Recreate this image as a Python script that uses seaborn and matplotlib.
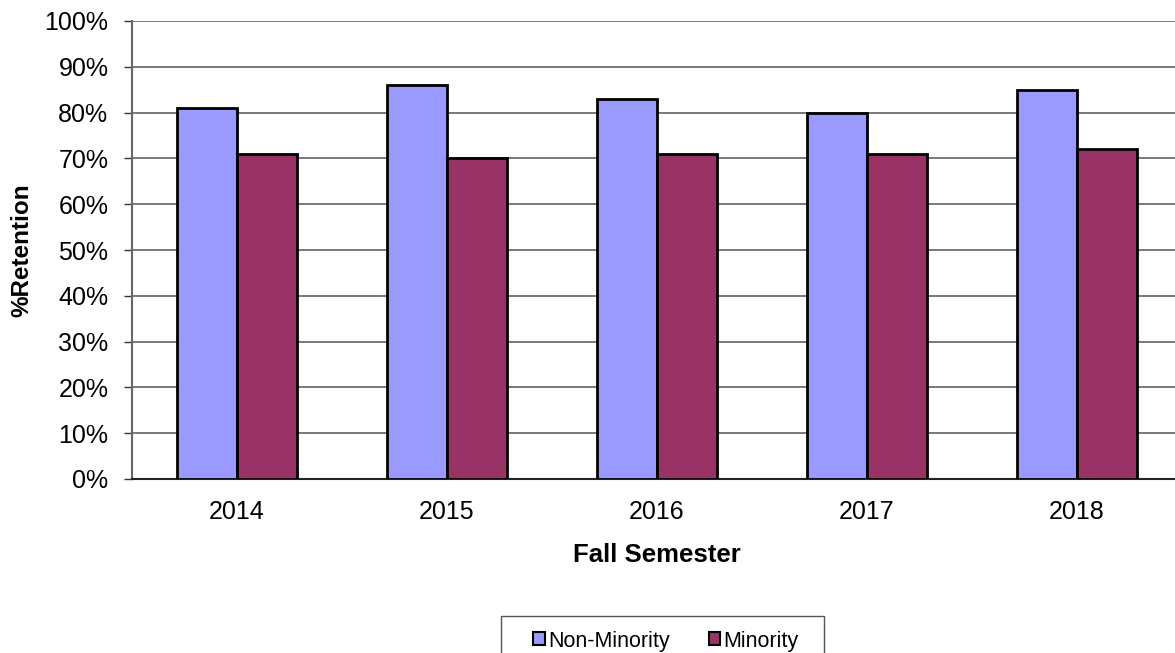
import matplotlib
matplotlib.use("Agg")
import matplotlib.pyplot as plt
import matplotlib.ticker as mticker
import numpy as np
import pandas as pd
import seaborn as sns

years = ["2014", "2015", "2016", "2017", "2018"]
series = ["Non-Minority", "Minority"]
non_minority = [81, 86, 83, 80, 85]
minority = [71, 70, 71, 71, 72]
y_ticks = list(range(0, 101, 10))

colors = {"Non-Minority": "#9999FF", "Minority": "#993366"}

df = pd.DataFrame({
    "year": years * 2,
    "group": [series[0]] * len(years) + [series[1]] * len(years),
    "value": non_minority + minority,
})

sns.set_style("white")
plt.rcParams["font.family"] = ["Liberation Sans", "DejaVu Sans"]
plt.rcParams["text.color"] = "black"
plt.rcParams["axes.labelcolor"] = "black"
plt.rcParams["xtick.color"] = "black"
plt.rcParams["ytick.color"] = "black"

fig = plt.figure(figsize=(11.75, 6.53), dpi=100)
ax = fig.add_axes([132 / 1175, 174 / 653, 1050 / 1175, 458 / 653])

sns.barplot(data=df, x="year", y="value", hue="group", order=years, hue_order=series,
            palette=colors, width=0.571, gap=0, edgecolor="black", linewidth=2.0,
            saturation=1, ax=ax, legend=False, zorder=3)

ax.set_xlim(-0.5, len(years) - 0.5)
ax.set_ylim(0, 100)
ax.set_yticks(y_ticks)
ax.yaxis.set_major_formatter(mticker.FuncFormatter(lambda v, _: f"{int(v)}%"))
ax.yaxis.grid(True, color="#555555", linewidth=1.1, zorder=0)
ax.set_axisbelow(True)

ax.set_xticks(np.arange(len(years)))
ax.set_xticklabels(years)
ax.set_xticks(np.arange(-0.5, len(years)), minor=True)
ax.tick_params(axis="x", which="major", length=0, pad=15, labelsize=18)
ax.tick_params(axis="x", which="minor", length=6, width=1, color="#333333", direction="out")
ax.tick_params(axis="y", length=6, width=1, color="#333333", direction="out", pad=11,
               labelsize=18, left=True)

for side in ["top", "right"]:
    ax.spines[side].set_visible(False)
ax.spines["left"].set_color("#666666")
ax.spines["left"].set_linewidth(1.5)
ax.spines["bottom"].set_color("#222222")
ax.spines["bottom"].set_linewidth(1.5)

ax.set_xlabel("Fall Semester", fontsize=18.5, fontweight="bold", labelpad=14)
ax.set_ylabel("%Retention", fontsize=17.5, fontweight="bold", labelpad=8)

handles = [plt.Rectangle((0, 0), 1, 1, facecolor=colors[s], edgecolor="black", linewidth=1.5)
           for s in series]
fig.legend(handles, series, loc="center", bbox_to_anchor=(666 / 1175, 12 / 653),
           ncol=2, fontsize=15.5, frameon=False, handlelength=0.55, handleheight=0.55,
           handletextpad=0.15, columnspacing=1.8, borderpad=0, borderaxespad=0)
frame = plt.Rectangle((501 / 1175, -0.02), 323 / 1175, 37 / 653 + 0.02,
                      transform=fig.transFigure, fill=False, edgecolor="#555555", linewidth=1.0)
fig.patches.append(frame)

fig.savefig("out.png", dpi=100)
